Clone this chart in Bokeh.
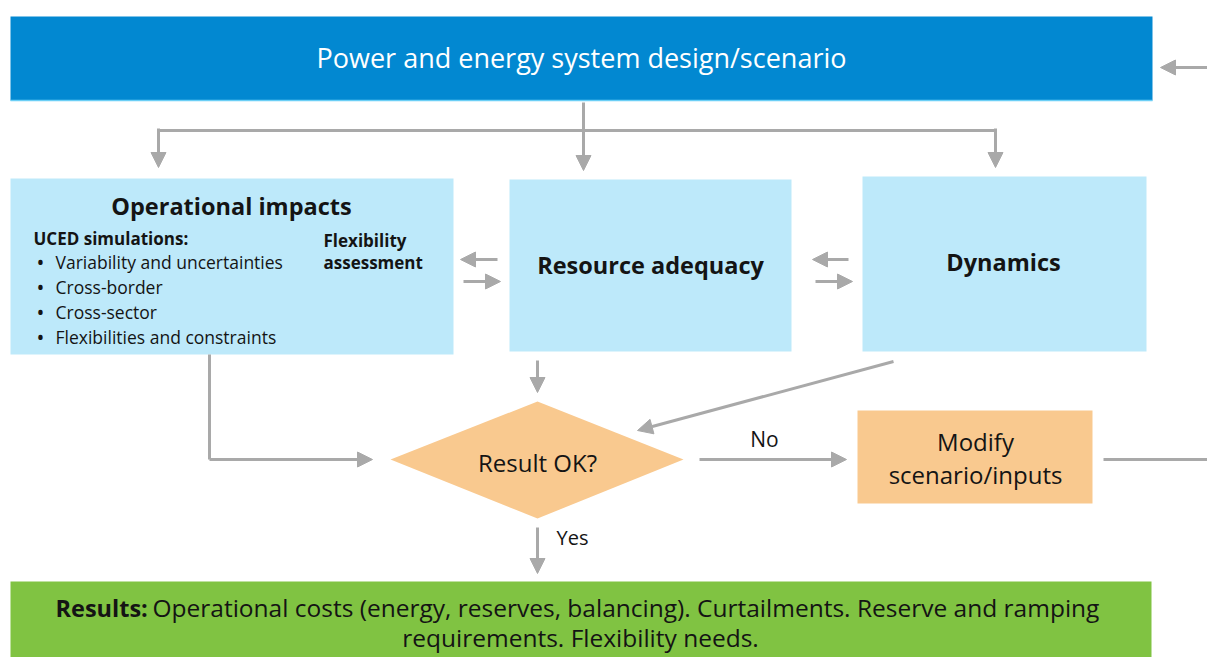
from bokeh.plotting import figure
from bokeh.models import Range1d, Arrow, NormalHead, ColumnDataSource
from bokeh.core.properties import value
from bokeh.embed import file_html
from bokeh.resources import INLINE

# ---------------- data (diagram content) ----------------
title_text = "Power and energy system design/scenario"
box_titles = ["Operational impacts", "Resource adequacy", "Dynamics"]
uced_header = "UCED simulations:"
uced_items = ["Variability and uncertainties", "Cross-border", "Cross-sector",
              "Flexibilities and constraints"]
flex_lines = ["Flexibility", "assessment"]
decision_text = "Result OK?"
no_label = "No"
yes_label = "Yes"
modify_lines = ["Modify", "scenario/inputs"]
results_bold = "Results:"
results_line1 = "Operational costs (energy, reserves, balancing). Curtailments. Reserve and ramping"
results_line2 = "requirements. Flexibility needs."

# ---------------- layout (pixel space of the diagram) ----------------
FONT = "Open Sans"
BLUE = "#0288D1"
LIGHT = "#BDE9FA"
ORANGE = "#F9C98F"
GREEN = "#80C342"
GRAY = "#A9A9A9"
INK = "#141414"

W, H = 1207, 657
p = figure(width=W, height=H, output_backend="svg", toolbar_location=None,
           x_range=Range1d(0, W), y_range=Range1d(H, 0),
           min_border=0, min_border_left=0, min_border_right=0,
           min_border_top=0, min_border_bottom=0)
p.axis.visible = False
p.grid.visible = False
p.outline_line_color = None
p.background_fill_color = "white"
p.border_fill_color = "white"

# boxes: left, right, top, bottom
boxes = dict(
    left=[10, 10, 509, 862, 857, 10],
    right=[1152, 453, 791, 1146, 1092, 1151],
    top=[16, 178, 179, 176, 410, 581],
    bottom=[100, 354, 351, 351, 503, 670],
    color=[BLUE, LIGHT, LIGHT, LIGHT, ORANGE, GREEN],
)
p.quad(left="left", right="right", top="top", bottom="bottom", fill_color="color",
       line_color=None, source=ColumnDataSource(boxes))
p.segment(x0=[10], y0=[100], x1=[1152], y1=[100], line_color="#6CCFF6", line_width=1.5)

# decision diamond
p.patch(x=[390, 537, 683, 537], y=[459, 401, 459, 518], fill_color=ORANGE, line_color=None)

# connector lines without heads
p.multi_line(xs=[[583, 583], [158, 995], [209, 209], [1103, 1207]],
             ys=[[102, 130], [130, 130], [354, 459], [459, 459]],
             line_color=GRAY, line_width=3)

# arrows with heads
arrows = [
    (1207, 67, 1160, 67),
    (583, 128, 583, 170),
    (158, 128, 158, 167),
    (995, 128, 995, 167),
    (497, 259, 460, 259),
    (463, 281, 500, 281),
    (848, 259, 812, 259),
    (815, 281, 852, 281),
    (537, 360, 537, 392),
    (893, 361, 637, 430),
    (209, 459, 372, 459),
    (699, 459, 846, 459),
    (537, 527, 537, 573),
]
for xs, ys, xe, ye in arrows:
    p.add_layout(Arrow(end=NormalHead(size=15, fill_color=GRAY, line_color=GRAY, line_width=1),
                       x_start=xs, y_start=ys, x_end=xe, y_end=ye,
                       line_color=GRAY, line_width=3))


def txt(x, y, s, size, color=INK, style="normal", align="center"):
    p.text(x=[x], y=[y], text=[s], text_font=value(FONT), text_font_size=value(f"{size}px"),
           text_color=color, text_font_style=style, text_align=align, text_baseline="middle")


txt(581, 57, title_text, 27, color="white")
txt(231, 205, box_titles[0], 23.5, style="bold")
txt(650, 264, box_titles[1], 23.5, style="bold")
txt(1003, 261, box_titles[2], 23.5, style="bold")
txt(33, 238, uced_header, 17, style="bold", align="left")
for i, item in enumerate(uced_items):
    txt(36, 261 + 25 * i, "\u2022", 21, align="left")
    txt(55, 261 + 25 * i, item, 17.5, align="left")
for i, line in enumerate(flex_lines):
    txt(323, 240 + 22 * i, line, 17, style="bold", align="left")
txt(537, 462, decision_text, 24)
txt(764, 438, no_label, 21)
txt(572, 537, yes_label, 20)
for i, line in enumerate(modify_lines):
    txt(975, 441 + 33 * i, line, 24)
txt(55, 607, results_bold, 23.5, style="bold", align="left")
txt(152, 607, results_line1, 24.5, align="left")
txt(580, 637, results_line2, 24.5)

open("out.html", "w").write(file_html(p, INLINE))
